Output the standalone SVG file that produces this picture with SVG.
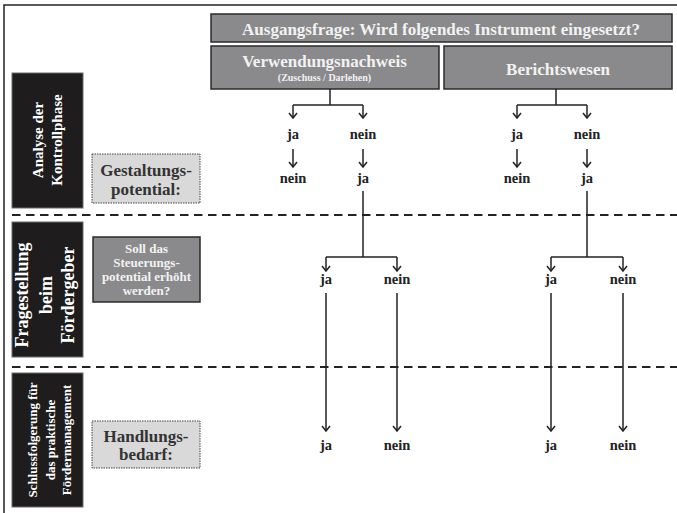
<svg xmlns="http://www.w3.org/2000/svg" width="677" height="513" viewBox="0 0 677 513">
<style>
text{font-family:"Liberation Serif","Times New Roman",serif;font-weight:bold}
.hdr{fill:#8a8a8c;stroke:#2a2a2a;stroke-width:1.5}
.side{fill:#1e1c1d;stroke:#6a6a6a;stroke-width:1}
.note{fill:#d9d9d9;stroke:#444;stroke-width:1;stroke-dasharray:1.5 1}
.ht{fill:#f2f2f2;font-size:17px;text-anchor:middle}
.st{fill:#ffffff;text-anchor:middle}
.nt{fill:#333;font-size:17px;text-anchor:middle}
.lbl{fill:#222;font-size:14.5px;text-anchor:middle}
.con{fill:none;stroke:#222;stroke-width:1.5}
.arr{fill:none;stroke:#222;stroke-width:1.5;marker-end:url(#ah)}
.dash{stroke:#222;stroke-width:2;stroke-dasharray:8.5 5.5}
</style>
<defs>
<marker id="ah" markerWidth="12" markerHeight="12" refX="6" refY="6" orient="auto" markerUnits="userSpaceOnUse">
<path d="M1,2 L6,6 L1,10" fill="none" stroke="#222" stroke-width="1.5"/>
</marker>
</defs>
<g id="frame">
<path d="M4,513 V5 H677" fill="none" stroke="#222" stroke-width="1.5"/>
<line class="dash" x1="12" y1="215" x2="677" y2="215"/>
<line class="dash" x1="12" y1="367" x2="677" y2="367"/>
</g>
<g id="title">
<rect class="hdr" x="211" y="14" width="461" height="28"/>
<text class="ht" x="441" y="35">Ausgangsfrage: Wird folgendes Instrument eingesetzt?</text>
</g>
<g id="verwendung">
<rect class="hdr" x="211" y="46" width="228" height="43"/>
<text class="ht" x="324.5" y="67">Verwendungsnachweis</text>
<text class="ht" x="324.5" y="81" style="font-size:10px">(Zuschuss / Darlehen)</text>
</g>
<g id="bericht">
<rect class="hdr" x="444" y="46" width="228" height="43"/>
<text class="ht" x="558" y="75">Berichtswesen</text>
</g>
<g id="analyse">
<rect class="side" x="12" y="73" width="71" height="135"/>
<text class="st" style="font-size:15px" transform="translate(43,140) rotate(-90)">Analyse der</text>
<text class="st" style="font-size:15px" transform="translate(62,140) rotate(-90)">Kontrollphase</text>
</g>
<g id="fragestellung">
<rect class="side" x="12" y="222" width="71" height="135"/>
<text class="st" style="font-size:18px" transform="translate(28,295) rotate(-90)">Fragestellung</text>
<text class="st" style="font-size:18px" transform="translate(52,295) rotate(-90)">beim</text>
<text class="st" style="font-size:18px" transform="translate(74,295) rotate(-90)">Fördergeber</text>
</g>
<g id="schluss">
<rect class="side" x="12" y="373" width="71" height="134"/>
<text class="st" style="font-size:13px" transform="translate(37,440) rotate(-90)">Schlussfolgerung für</text>
<text class="st" style="font-size:13px" transform="translate(55,440) rotate(-90)">das praktische</text>
<text class="st" style="font-size:13px" transform="translate(71,440) rotate(-90)">Fördermanagement</text>
</g>
<g id="gestaltung">
<rect class="note" x="92" y="154" width="108" height="49"/>
<text class="nt" x="146" y="176">Gestaltungs-</text>
<text class="nt" x="146" y="195">potential:</text>
</g>
<g id="soll">
<rect class="hdr" x="93" y="237" width="107" height="65"/>
<text class="ht" x="146.5" y="253" style="font-size:13px">Soll das</text>
<text class="ht" x="146.5" y="267" style="font-size:13px">Steuerungs-</text>
<text class="ht" x="146.5" y="281" style="font-size:13px">potential erhöht</text>
<text class="ht" x="146.5" y="295" style="font-size:13px">werden?</text>
</g>
<g id="handlung">
<rect class="note" x="92" y="421" width="108" height="47"/>
<text class="nt" x="146" y="442">Handlungs-</text>
<text class="nt" x="146" y="460">bedarf:</text>
</g>
<g id="connectors">
<path class="con" d="M330,89 V105 M293,105 H363"/>
<path class="arr" d="M293,105 V118"/>
<path class="arr" d="M363,105 V118"/>
<path class="arr" d="M293,149 V167"/>
<path class="arr" d="M363,149 V167"/>
<path class="con" d="M556,89 V105 M517,105 H587"/>
<path class="arr" d="M517,105 V118"/>
<path class="arr" d="M587,105 V118"/>
<path class="arr" d="M517,149 V167"/>
<path class="arr" d="M587,149 V167"/>
<path class="con" d="M363,191 V257 M326,257 H397"/>
<path class="arr" d="M326,257 V271"/>
<path class="arr" d="M397,257 V271"/>
<path class="con" d="M587,191 V257 M551,257 H623"/>
<path class="arr" d="M551,257 V271"/>
<path class="arr" d="M623,257 V271"/>
<path class="arr" d="M326,293 V431"/>
<path class="arr" d="M397,293 V431"/>
<path class="arr" d="M551,293 V431"/>
<path class="arr" d="M623,293 V431"/>
</g>
<g id="labels">
<text class="lbl" x="293" y="139">ja</text>
<text class="lbl" x="363" y="139">nein</text>
<text class="lbl" x="293" y="183">nein</text>
<text class="lbl" x="363" y="183">ja</text>
<text class="lbl" x="517" y="139">ja</text>
<text class="lbl" x="587" y="139">nein</text>
<text class="lbl" x="517" y="183">nein</text>
<text class="lbl" x="587" y="183">ja</text>
<text class="lbl" x="326" y="284">ja</text>
<text class="lbl" x="397" y="284">nein</text>
<text class="lbl" x="551" y="284">ja</text>
<text class="lbl" x="623" y="284">nein</text>
<text class="lbl" x="326" y="450">ja</text>
<text class="lbl" x="397" y="450">nein</text>
<text class="lbl" x="551" y="450">ja</text>
<text class="lbl" x="623" y="450">nein</text>
</g>
</svg>
